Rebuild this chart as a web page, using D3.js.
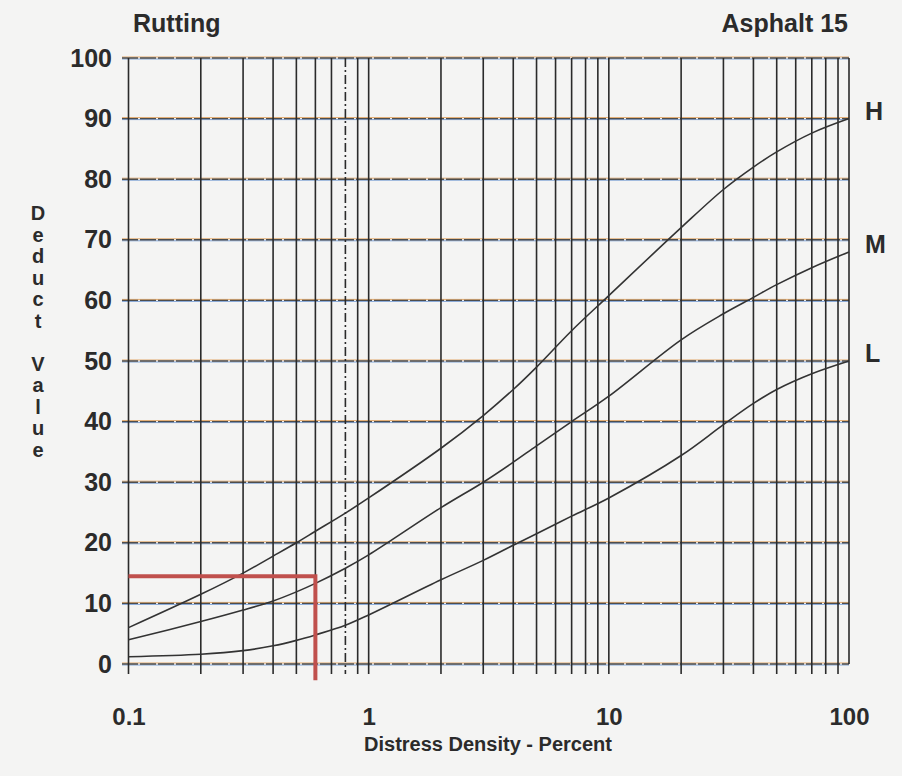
<!DOCTYPE html>
<html>
<head>
<meta charset="utf-8">
<script src="https://cdn.jsdelivr.net/npm/d3@7"></script>
<style>
  html, body { margin: 0; padding: 0; background: #f4f4f3; }
  svg text { font-family: "Liberation Sans", Arial, Helvetica, sans-serif; font-weight: bold; fill: #2b2b2b; }
</style>
</head>
<body>
<div id="chart"></div>
<script>
// valeurs (densité en %, valeur de déduction)
const density = [0.1, 0.2, 0.3, 0.4, 0.5, 0.6, 0.8, 1, 2, 3, 4, 5, 7, 10, 20, 30, 40, 50, 70, 100];
const highValues = [6, 11.5, 15, 17.8, 20, 21.9, 24.9, 27.4, 35.6, 41, 45.3, 49, 55, 60.8, 72, 78.3, 82, 84.5, 87.6, 90];
const mediumValues = [4, 7, 8.9, 10.4, 11.9, 13.3, 15.8, 18, 25.8, 30, 33.3, 36, 40, 44.2, 53.5, 57.8, 60.5, 62.6, 65.4, 68];
const lowValues = [1.2, 1.6, 2.2, 3, 3.9, 4.8, 6.4, 8.1, 13.9, 17.1, 19.6, 21.5, 24.4, 27.4, 34.4, 39.5, 43, 45.3, 47.9, 50];
const severities = ["H", "M", "L"];

// lignes de la grille
const yTicks = [0, 10, 20, 30, 40, 50, 60, 70, 80, 90, 100];
const xGrid = [0.1, 0.2, 0.3, 0.4, 0.5, 0.6, 0.7, 0.8, 0.9, 1, 2, 3, 4, 5, 6, 7, 8, 9, 10, 20, 30, 40, 50, 60, 70, 80, 90, 100];
const xLabels = [0.1, 1, 10, 100];
const dashedX = [0.8];

// trait rouge ajouté à la main sur la copie
const refDensity = [0.1, 0.6, 0.6];
const refDeduct = [14.5, 14.5, -2.7];

const width = 902, height = 776;

const x = d3.scaleLog().domain([0.1, 100]).range([128.5, 849]);
const y = d3.scaleLinear().domain([0, 100]).range([664, 58]);

const svg = d3.select("#chart").append("svg")
    .attr("width", width)
    .attr("height", height);

svg.append("rect").attr("width", width).attr("height", height).attr("fill", "#f4f4f3");

// lignes horizontales (avec le petit décalage de couleur du scan)
const hGrid = svg.append("g");
hGrid.selectAll("line.orange").data(yTicks).enter().append("line")
    .attr("x1", 122).attr("x2", x(100))
    .attr("y1", d => y(d) - 1).attr("y2", d => y(d) - 1)
    .attr("stroke", "#e2a86a").attr("stroke-width", 1);
hGrid.selectAll("line.blue").data(yTicks).enter().append("line")
    .attr("x1", 122).attr("x2", x(100))
    .attr("y1", d => y(d) + 1).attr("y2", d => y(d) + 1)
    .attr("stroke", "#7fa3d6").attr("stroke-width", 1);
hGrid.selectAll("line.dark").data(yTicks).enter().append("line")
    .attr("x1", 122).attr("x2", x(100))
    .attr("y1", d => y(d)).attr("y2", d => y(d))
    .attr("stroke", "#4d4d4d").attr("stroke-width", 1.4)
    .attr("stroke-dasharray", "16,2");

// lignes verticales
svg.append("g").selectAll("line").data(xGrid).enter().append("line")
    .attr("x1", d => x(d)).attr("x2", d => x(d))
    .attr("y1", y(100))
    .attr("y2", d => d === 100 ? y(0) : y(0) + 10)
    .attr("stroke", "#2a2a2a")
    .attr("stroke-width", 1.6)
    .attr("stroke-dasharray", d => dashedX.includes(d) ? "9,3,2,3" : null);

// courbes
const line = d3.line()
    .x(d => x(d[0]))
    .y(d => y(d[1]))
    .curve(d3.curveCatmullRom.alpha(0.5));

const series = [highValues, mediumValues, lowValues];
svg.append("g").selectAll("path").data(series).enter().append("path")
    .attr("d", vals => line(density.map((dd, i) => [dd, vals[i]])))
    .attr("fill", "none")
    .attr("stroke", "#333")
    .attr("stroke-width", 1.6);

// étiquettes H / M / L
svg.append("g").selectAll("text").data(series).enter().append("text")
    .attr("x", x(100) + 16)
    .attr("y", vals => y(vals[vals.length - 1]) - 8)
    .attr("dominant-baseline", "central")
    .style("font-size", "25px")
    .text((vals, i) => severities[i]);

// axe Y
const yAxis = svg.append("g")
    .attr("transform", "translate(122,0)")
    .call(d3.axisLeft(y).tickValues(yTicks).tickSize(0).tickPadding(10));
yAxis.select(".domain").remove();
yAxis.selectAll("text")
    .style("font-size", "25px")
    .style("font-family", "'Liberation Sans', Arial, sans-serif")
    .attr("fill", "#2b2b2b");

// axe X
const xAxis = svg.append("g")
    .attr("transform", "translate(0," + (y(0) + 10) + ")")
    .call(d3.axisBottom(x).tickValues(xLabels).tickSize(0).tickPadding(34)
        .tickFormat(d => d < 1 ? d3.format(".1f")(d) : d3.format("d")(d)));
xAxis.select(".domain").remove();
xAxis.selectAll("text")
    .style("font-size", "24px")
    .style("font-family", "'Liberation Sans', Arial, sans-serif")
    .attr("fill", "#2b2b2b");

// titres
svg.append("text")
    .attr("x", 133).attr("y", 32)
    .style("font-size", "25px")
    .text("Rutting");

svg.append("text")
    .attr("x", 848).attr("y", 32)
    .attr("text-anchor", "end")
    .style("font-size", "25px")
    .text("Asphalt 15");

svg.append("text")
    .attr("x", 488).attr("y", 751)
    .attr("text-anchor", "middle")
    .style("font-size", "20px")
    .text("Distress Density - Percent");

// titre Y, lettres empilées
const yLabel = "Deduct Value".split("");
svg.append("g").selectAll("text").data(yLabel).enter().append("text")
    .attr("x", 38)
    .attr("y", (c, i) => 213 + i * 21.5)
    .attr("text-anchor", "middle")
    .attr("dominant-baseline", "central")
    .style("font-size", "20px")
    .text(c => c);

// annotation rouge
const refLine = d3.line().x(d => x(d[0])).y(d => y(d[1]));
svg.append("path")
    .attr("d", refLine(refDensity.map((dd, i) => [dd, refDeduct[i]])))
    .attr("fill", "none")
    .attr("stroke", "#c0504d")
    .attr("stroke-width", 4);
</script>
</body>
</html>
